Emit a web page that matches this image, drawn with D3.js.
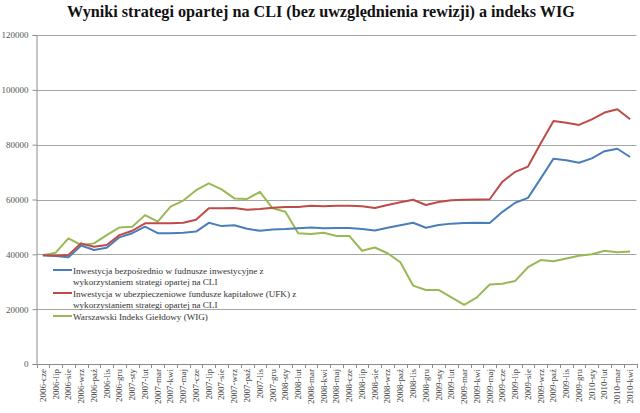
<!DOCTYPE html>
<html><head><meta charset="utf-8">
<script src="https://cdn.jsdelivr.net/npm/d3@7"></script>
<style>body{margin:0;background:#fff;} svg{display:block;}</style>
</head><body>
<svg id="c" width="640" height="413"></svg>
<script>
const months = ["2006-cze","2006-lip","2006-sie","2006-wrz","2006-paź","2006-lis","2006-gru",
"2007-sty","2007-lut","2007-mar","2007-kwi","2007-maj","2007-cze","2007-lip","2007-sie","2007-wrz","2007-paź","2007-lis","2007-gru",
"2008-sty","2008-lut","2008-mar","2008-kwi","2008-maj","2008-cze","2008-lip","2008-sie","2008-wrz","2008-paź","2008-lis","2008-gru",
"2009-sty","2009-lut","2009-mar","2009-kwi","2009-maj","2009-cze","2009-lip","2009-sie","2009-wrz","2009-paź","2009-lis","2009-gru",
"2010-sty","2010-lut","2010-mar","2010-kwi"];
const direct = [39700,39400,38900,43200,41600,42400,46200,47700,50100,47700,47700,47900,48300,51500,50300,50600,49300,48600,49100,49200,49500,49800,49500,49600,49600,49200,48700,49700,50600,51500,49700,50700,51200,51400,51500,51400,55500,58800,60600,67700,74900,74300,73400,75000,77600,78500,75500];
const ufk = [39700,39500,39800,44000,42800,43400,47000,48600,51300,51300,51300,51500,52600,56800,56800,56900,56300,56500,57000,57300,57300,57700,57500,57700,57700,57500,56900,58000,59000,59900,58000,59100,59700,59900,60000,60100,66500,70100,72000,80500,88600,88000,87200,89200,91700,92900,89300];
const wig = [39700,40600,45800,43400,44000,47000,49800,50100,54300,51900,57400,59600,63400,65900,63700,60400,60200,62800,56800,55500,47700,47400,47900,46700,46700,41300,42500,40400,37100,28600,27000,27000,24300,21600,24300,29000,29300,30300,35300,37900,37500,38500,39500,40000,41300,40800,41000];
const yTicks = [0,20000,40000,60000,80000,100000,120000];
const seriesNames = ["Inwestycja bezpośrednio w fudnusze inwestycyjne z|wykorzystaniem strategi opartej na CLI",
 "Inwestycja w ubezpieczeniowe fundusze kapitałowe (UFK) z|wykorzystaniem strategi opartej na CLI",
 "Warszawski Indeks Giełdowy (WIG)"];
const colors = ["#4A7EBB","#BE4B48","#98B954"];
const series = [direct, ufk, wig];

const svg = d3.select("#c");
const L = 36.5, R = 636.5, T = 35, B = 364;
const x = d3.scaleBand().domain(months).range([L, R]);
const y = d3.scaleLinear().domain([0,120000]).range([B, T]);
const font = "'Liberation Serif','Times New Roman',serif";

svg.append("text").attr("x", 321).attr("y", 16.5).attr("text-anchor","middle")
  .attr("font-family", font).attr("font-weight","bold").attr("font-size", 16.2).attr("fill","#111")
  .text("Wyniki strategi opartej na CLI (bez uwzględnienia rewizji) a indeks WIG");

// gridlines
svg.append("g").selectAll("line").data(yTicks.filter(d=>d>0)).join("line")
  .attr("x1", L).attr("x2", R).attr("y1", d=>Math.round(y(d))+0.5).attr("y2", d=>Math.round(y(d))+0.5)
  .attr("stroke","#a6a6a6").attr("stroke-width",1);

// y axis
const yAxis = d3.axisLeft(y).tickValues(yTicks).tickSize(4).tickFormat(d3.format("d"));
const gy = svg.append("g").attr("transform",`translate(${L},0)`).call(yAxis);
gy.select(".domain").attr("stroke","#8c8c8c");
gy.selectAll(".tick line").attr("stroke","#8c8c8c");
gy.selectAll(".tick text").attr("font-family",font).attr("font-size",9).attr("fill","#555").attr("x",-8);

// x axis
const xAxis = d3.axisBottom(x).tickSize(0);
const gx = svg.append("g").attr("transform",`translate(0,${B})`).call(xAxis);
gx.select(".domain").attr("stroke","#8c8c8c");
gx.selectAll(".tick text").attr("font-family",font).attr("font-size",9).attr("fill","#444")
  .attr("transform","rotate(-90)").attr("text-anchor","end").attr("x",-5).attr("y",0).attr("dy","0.32em");
// boundary tick marks
svg.append("g").selectAll("line").data(months.concat(["__end"])).join("line")
  .attr("x1",(d,i)=>Math.round(L + i*x.step())+0.5).attr("x2",(d,i)=>Math.round(L + i*x.step())+0.5)
  .attr("y1",B).attr("y2",B+4).attr("stroke","#8c8c8c");

// lines
const line = d3.line().x((d,i)=>x(months[i])+x.bandwidth()/2).y(d=>y(d));
[2,0,1].forEach(k=>{
  svg.append("path").datum(series[k]).attr("d",line).attr("fill","none")
    .attr("stroke",colors[k]).attr("stroke-width",2).attr("stroke-linejoin","round");
});

// legend
const legY = [270, 293, 316];
seriesNames.forEach((name,k)=>{
  const g = svg.append("g");
  g.append("line").attr("x1",53).attr("x2",72).attr("y1",legY[k]).attr("y2",legY[k])
    .attr("stroke",colors[k]).attr("stroke-width",2);
  name.split("|").forEach((t,j)=>{
    g.append("text").attr("x",73).attr("y",legY[k]+3.5+j*11.5).attr("font-family",font)
      .attr("font-size",9.1).attr("fill","#333").text(t);
  });
});
</script>
</body></html>
